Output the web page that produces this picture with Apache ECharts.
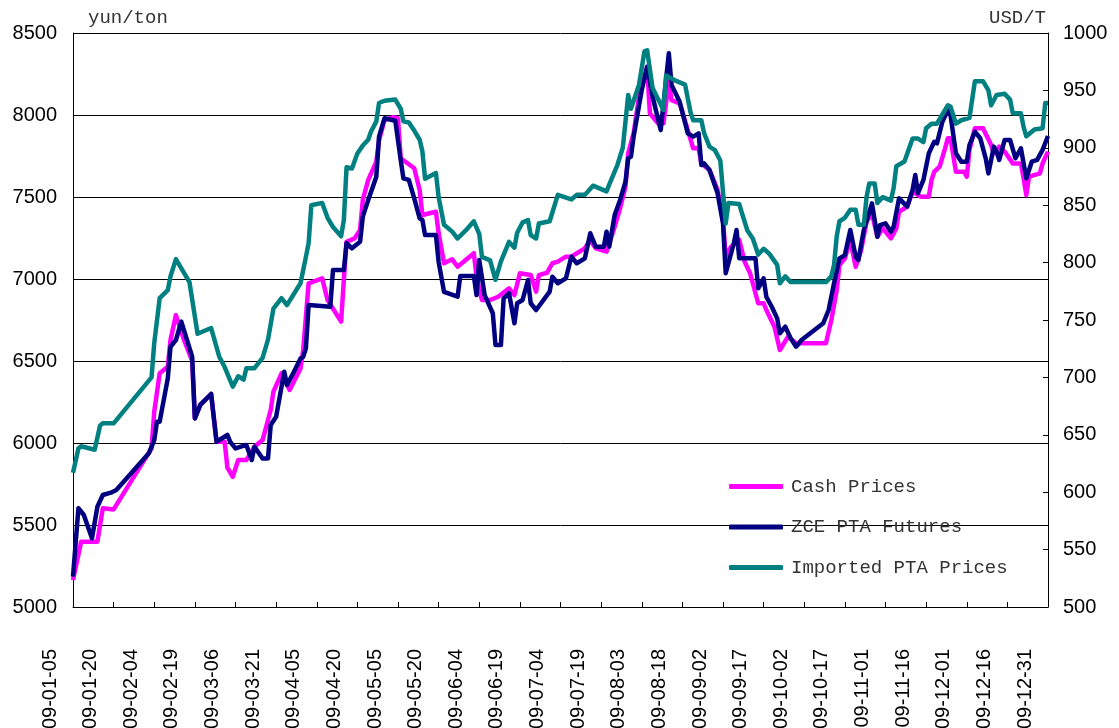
<!DOCTYPE html>
<html>
<head>
<meta charset="utf-8">
<script src="https://cdn.jsdelivr.net/npm/echarts@6/dist/echarts.min.js"></script>
<style>
  html, body { margin: 0; padding: 0; background: #fff; }
  #chart { width: 1119px; height: 728px; }
</style>
</head>
<body>
<div id="chart"></div>
<script>
// dates are 2009 month-day, values in yun/ton (cash, futures) and USD/T (imported)
const cashPrices = [
  ['01-05', 5164], ['01-08', 5398], ['01-14', 5398], ['01-16', 5602], ['01-20', 5595],
  ['02-03', 5967], ['02-04', 6191], ['02-06', 6425], ['02-09', 6465], ['02-10', 6628],
  ['02-12', 6780], ['02-15', 6628], ['02-18', 6500], ['02-19', 6150], ['02-21', 6232],
  ['02-25', 6299], ['02-27', 6008], ['03-02', 6008], ['03-03', 5850], ['03-05', 5794],
  ['03-07', 5896], ['03-10', 5896], ['03-13', 5977], ['03-16', 6018], ['03-19', 6201],
  ['03-20', 6313], ['03-23', 6425], ['03-26', 6323], ['03-30', 6455], ['03-31', 6567],
  ['04-02', 6974], ['04-07', 7004], ['04-09', 6872], ['04-14', 6740], ['04-15', 6994],
  ['04-16', 7227], ['04-19', 7248], ['04-21', 7299], ['04-22', 7482], ['04-24', 7604],
  ['04-27', 7716], ['04-28', 7847], ['04-30', 7969], ['05-03', 7986], ['05-05', 7980],
  ['05-06', 7736], ['05-11', 7675], ['05-13', 7543], ['05-14', 7390], ['05-19', 7410],
  ['05-20', 7279], ['05-22', 7096], ['05-25', 7120], ['05-27', 7075], ['06-02', 7157],
  ['06-03', 7014], ['06-05', 6872], ['06-08', 6872], ['06-11', 6892], ['06-15', 6943],
  ['06-17', 6902], ['06-19', 7035], ['06-23', 7024], ['06-25', 6923], ['06-26', 7024],
  ['06-29', 7038], ['07-01', 7096], ['07-03', 7106], ['07-06', 7136], ['07-08', 7136],
  ['07-11', 7167], ['07-13', 7187], ['07-15', 7238], ['07-17', 7187], ['07-21', 7167],
  ['07-24', 7319], ['07-26', 7431], ['07-28', 7563], ['07-29', 7767], ['07-31', 7888],
  ['08-02', 8112], ['08-05', 8294], ['08-06', 8010], ['08-09', 7949], ['08-11', 7949],
  ['08-13', 8203], ['08-14', 8091], ['08-17', 8071], ['08-20', 7908], ['08-22', 7797],
  ['08-24', 7797], ['08-25', 7705], ['08-28', 7665], ['08-31', 7543], ['09-02', 7360],
  ['09-03', 7136], ['09-05', 7197], ['09-08', 7238], ['09-10', 7105], ['09-12', 7035],
  ['09-13', 6974], ['09-15', 6852], ['09-17', 6852], ['09-18', 6811], ['09-21', 6709],
  ['09-23', 6567], ['09-26', 6648], ['09-29', 6608], ['10-10', 6608], ['10-12', 6750],
  ['10-14', 6933], ['10-15', 7085], ['10-17', 7126], ['10-19', 7238], ['10-21', 7075],
  ['10-23', 7177], ['10-25', 7349], ['10-27', 7400], ['10-29', 7258], ['10-31', 7309],
  ['11-03', 7248], ['11-05', 7309], ['11-06', 7410], ['11-09', 7441], ['11-11', 7532],
  ['11-14', 7502], ['11-17', 7502], ['11-18', 7604], ['11-19', 7654], ['11-21', 7685],
  ['11-23', 7797], ['11-24', 7858], ['11-25', 7858], ['11-27', 7654], ['11-30', 7654],
  ['12-01', 7624], ['12-02', 7787], ['12-04', 7919], ['12-07', 7919], ['12-10', 7817],
  ['12-11', 7766], ['12-13', 7807], ['12-15', 7777], ['12-18', 7705], ['12-21', 7705],
  ['12-22', 7614], ['12-23', 7512], ['12-24', 7624], ['12-28', 7644], ['12-29', 7705],
  ['12-31', 7777]
];

const zceFutures = [
  ['01-05', 5185], ['01-07', 5602], ['01-09', 5561], ['01-12', 5419], ['01-14', 5611],
  ['01-16', 5683], ['01-19', 5697], ['01-21', 5713], ['02-02', 5937], ['02-04', 6018],
  ['02-05', 6130], ['02-06', 6130], ['02-09', 6394], ['02-10', 6587], ['02-12', 6628],
  ['02-14', 6740], ['02-18', 6526], ['02-19', 6150], ['02-21', 6232], ['02-25', 6299],
  ['02-27', 6008], ['03-03', 6049], ['03-04', 6008], ['03-06', 5967], ['03-10', 5988],
  ['03-12', 5896], ['03-13', 5977], ['03-16', 5906], ['03-18', 5906], ['03-19', 6110],
  ['03-21', 6160], ['03-24', 6435], ['03-25', 6354], ['03-27', 6415], ['03-30', 6516],
  ['03-31', 6526], ['04-01', 6577], ['04-02', 6841], ['04-10', 6831], ['04-11', 7055],
  ['04-15', 7055], ['04-16', 7218], ['04-18', 7187], ['04-21', 7227], ['04-22', 7380],
  ['04-24', 7482], ['04-27', 7624], ['04-28', 7868], ['04-30', 7980], ['05-04', 7965],
  ['05-06', 7726], ['05-07', 7614], ['05-09', 7604], ['05-11', 7492], ['05-13', 7370],
  ['05-14', 7360], ['05-15', 7268], ['05-19', 7268], ['05-20', 7105], ['05-22', 6922],
  ['05-27', 6892], ['05-28', 7018], ['06-02', 7018], ['06-03', 6902], ['06-04', 7116],
  ['06-06', 6902], ['06-09', 6791], ['06-10', 6597], ['06-12', 6597], ['06-13', 6882],
  ['06-15', 6913], ['06-17', 6730], ['06-18', 6852], ['06-20', 6872], ['06-22', 6994],
  ['06-23', 6852], ['06-25', 6811], ['06-30', 6923], ['07-01', 7014], ['07-03', 6974],
  ['07-06', 7004], ['07-08', 7136], ['07-10', 7096], ['07-13', 7126], ['07-15', 7279],
  ['07-17', 7197], ['07-20', 7197], ['07-21', 7288], ['07-22', 7197], ['07-24', 7390],
  ['07-26', 7482], ['07-28', 7593], ['07-29', 7736], ['07-30', 7746], ['07-31', 7868],
  ['08-03', 8152], ['08-05', 8294], ['08-07', 8112], ['08-10', 7908], ['08-13', 8376],
  ['08-14', 8183], ['08-17', 8081], ['08-20', 7888], ['08-22', 7868], ['08-24', 7888],
  ['08-25', 7695], ['08-26', 7705], ['08-28', 7665], ['08-31', 7523], ['09-02', 7340],
  ['09-03', 7035], ['09-06', 7218], ['09-07', 7299], ['09-08', 7126], ['09-14', 7126],
  ['09-15', 6943], ['09-17', 7004], ['09-18', 6892], ['09-20', 6831], ['09-22', 6760],
  ['09-23', 6669], ['09-25', 6709], ['09-27', 6638], ['09-29', 6587], ['10-01', 6628],
  ['10-09', 6730], ['10-11', 6811], ['10-13', 6974], ['10-15', 7126], ['10-17', 7146],
  ['10-19', 7299], ['10-21', 7136], ['10-22', 7116], ['10-24', 7299], ['10-27', 7461],
  ['10-29', 7258], ['10-30', 7329], ['11-01', 7339], ['11-03', 7288], ['11-04', 7319],
  ['11-06', 7492], ['11-09', 7441], ['11-11', 7543], ['11-12', 7634], ['11-13', 7523],
  ['11-15', 7604], ['11-17', 7767], ['11-19', 7837], ['11-20', 7827], ['11-22', 7959],
  ['11-24', 8030], ['11-25', 8000], ['11-27', 7767], ['11-29', 7715], ['12-01', 7715],
  ['12-02', 7817], ['12-04', 7898], ['12-06', 7858], ['12-08', 7736], ['12-09', 7644],
  ['12-11', 7807], ['12-12', 7777], ['12-13', 7726], ['12-15', 7848], ['12-17', 7848],
  ['12-19', 7736], ['12-21', 7797], ['12-23', 7614], ['12-25', 7715], ['12-27', 7726],
  ['12-29', 7787], ['12-31', 7872]
];

const importedPrices = [
  ['01-05', 617], ['01-07', 638], ['01-08', 640], ['01-13', 637], ['01-15', 658],
  ['01-16', 660], ['01-20', 660], ['02-03', 700], ['02-04', 730], ['02-06', 769],
  ['02-09', 776], ['02-10', 788], ['02-12', 803], ['02-17', 783], ['02-20', 738],
  ['02-25', 743], ['02-28', 718], ['03-02', 709], ['03-05', 692], ['03-07', 701],
  ['03-09', 698], ['03-10', 708], ['03-13', 708], ['03-16', 717], ['03-18', 733],
  ['03-20', 760], ['03-23', 769], ['03-25', 763], ['03-30', 782], ['04-01', 805],
  ['04-02', 817], ['04-03', 850], ['04-07', 852], ['04-09', 839], ['04-11', 831],
  ['04-14', 823], ['04-15', 837], ['04-16', 883], ['04-18', 882], ['04-20', 895],
  ['04-22', 902], ['04-24', 907], ['04-25', 914], ['04-27', 923], ['04-28', 939],
  ['04-30', 941], ['05-04', 942], ['05-06', 934], ['05-07', 923], ['05-09', 922],
  ['05-11', 915], ['05-13', 907], ['05-14', 897], ['05-15', 873], ['05-19', 878],
  ['05-20', 857], ['05-22', 833], ['05-25', 827], ['05-27', 821], ['05-30', 828],
  ['06-02', 836], ['06-04', 825], ['06-05', 805], ['06-08', 802], ['06-10', 785],
  ['06-12', 801], ['06-15', 818], ['06-17', 813], ['06-18', 826], ['06-20', 835],
  ['06-22', 837], ['06-23', 824], ['06-25', 821], ['06-26', 834], ['06-30', 836],
  ['07-03', 859], ['07-08', 855], ['07-10', 859], ['07-13', 859], ['07-16', 867],
  ['07-21', 862], ['07-22', 868], ['07-25', 885], ['07-27', 900], ['07-29', 946],
  ['07-30', 934], ['08-02', 955], ['08-04', 984], ['08-05', 985], ['08-07', 952],
  ['08-11', 933], ['08-12', 963], ['08-15', 959], ['08-19', 955], ['08-21', 931],
  ['08-22', 924], ['08-25', 924], ['08-26', 913], ['08-28', 901], ['08-30', 898],
  ['09-01', 889], ['09-03', 834], ['09-04', 852], ['09-08', 851], ['09-09', 843],
  ['09-11', 828], ['09-13', 821], ['09-15', 807], ['09-17', 812], ['09-19', 808],
  ['09-22', 798], ['09-23', 782], ['09-25', 788], ['09-27', 783], ['10-10', 783],
  ['10-12', 788], ['10-13', 798], ['10-14', 823], ['10-15', 836], ['10-17', 839],
  ['10-19', 846], ['10-21', 846], ['10-22', 833], ['10-24', 833], ['10-25', 857],
  ['10-26', 869], ['10-28', 869], ['10-29', 852], ['10-31', 857], ['11-03', 854],
  ['11-04', 865], ['11-05', 884], ['11-08', 888], ['11-11', 908], ['11-13', 908],
  ['11-15', 905], ['11-16', 917], ['11-18', 921], ['11-20', 921], ['11-22', 929],
  ['11-24', 937], ['11-25', 936], ['11-27', 921], ['11-29', 924], ['12-02', 926],
  ['12-04', 958], ['12-07', 958], ['12-09', 950], ['12-10', 937], ['12-12', 946],
  ['12-15', 947], ['12-17', 942], ['12-18', 930], ['12-21', 930], ['12-22', 918],
  ['12-23', 910], ['12-26', 916], ['12-29', 917], ['12-30', 939], ['12-31', 939]
];

const seriesNames = ['Cash Prices', 'ZCE PTA Futures', 'Imported PTA Prices'];
const seriesColors = ['#ff00ff', '#000080', '#008080'];

// x axis runs in days counted from 2009-01-05, ticks every 15 days
const DAY = 86400000;
const start = Date.UTC(2009, 0, 5);
const toDay = (md) => {
  const [m, d] = md.split('-').map(Number);
  return (Date.UTC(2009, m - 1, d) - start) / DAY;
};
const dayLabel = (v) => {
  const dt = new Date(start + v * DAY);
  const mm = String(dt.getUTCMonth() + 1).padStart(2, '0');
  const dd = String(dt.getUTCDate()).padStart(2, '0');
  return dt.getUTCFullYear() + '-' + mm + '-' + dd;
};
const toPoints = (arr) => arr.map(([md, v]) => [toDay(md), v]);
const plain = (v) => String(v);

const chart = echarts.init(document.getElementById('chart'));
const lineSeries = (i, data, yIndex) => ({
  name: seriesNames[i],
  type: 'line',
  yAxisIndex: yIndex,
  data: toPoints(data),
  symbol: 'none',
  color: seriesColors[i],
  lineStyle: { width: 4.5, color: seriesColors[i], join: 'round' },
  emphasis: { disabled: true }
});

// the date labels sit a little left of their ticks, so they live on a second,
// invisible grid shifted 23px left of the plot
const labelShift = 23;

chart.setOption({
  animation: false,
  backgroundColor: '#fff',
  grid: [
    { left: 73, right: 71, top: 33, bottom: 121, outerBoundsMode: 'none' },
    { left: 73 - labelShift, right: 71 + labelShift, top: 33, bottom: 121, outerBoundsMode: 'none' }
  ],
  legend: {
    orient: 'vertical',
    left: 724,
    top: 472,
    icon: 'roundRect',
    itemWidth: 54,
    itemHeight: 5,
    itemGap: 21.5,
    textStyle: { fontFamily: 'Liberation Mono', fontSize: 19, color: '#333', padding: [0, 0, 0, 3] },
    data: seriesNames
  },
  xAxis: [
    {
      type: 'value',
      min: 0,
      max: 360,
      interval: 15,
      axisLine: { lineStyle: { color: '#000', width: 1 } },
      axisTick: { inside: true, length: 5, lineStyle: { color: '#000' } },
      splitLine: { show: false },
      axisLabel: { show: false }
    },
    {
      type: 'value',
      gridIndex: 1,
      min: 0,
      max: 360,
      interval: 15,
      axisLine: { show: false },
      axisTick: { show: false },
      splitLine: { show: false },
      axisLabel: {
        rotate: 90,
        margin: 42,
        color: '#000',
        fontFamily: 'Liberation Sans',
        fontSize: 20,
        showMinLabel: true,
        showMaxLabel: true,
        formatter: dayLabel
      }
    }
  ],
  yAxis: [
    {
      type: 'value',
      min: 5000,
      max: 8500,
      interval: 500,
      name: 'yun/ton',
      nameLocation: 'end',
      nameGap: 6,
      nameTextStyle: { fontFamily: 'Liberation Mono', fontSize: 19, color: '#333', align: 'left', padding: [0, 0, 0, 15] },
      axisLine: { show: true, lineStyle: { color: '#000' } },
      axisTick: { show: false },
      axisLabel: { margin: 16, color: '#000', fontFamily: 'Liberation Sans', fontSize: 20, formatter: plain },
      splitLine: { show: true, lineStyle: { color: '#000', width: 1 } }
    },
    {
      type: 'value',
      min: 500,
      max: 1000,
      interval: 50,
      position: 'right',
      name: 'USD/T',
      nameLocation: 'end',
      nameGap: 6,
      nameTextStyle: { fontFamily: 'Liberation Mono', fontSize: 19, color: '#333', align: 'right', padding: [0, 2, 0, 0] },
      axisLine: { show: true, lineStyle: { color: '#000' } },
      axisTick: { show: true, inside: true, length: 5, lineStyle: { color: '#000' } },
      axisLabel: { margin: 15, color: '#000', fontFamily: 'Liberation Sans', fontSize: 20, formatter: plain },
      splitLine: { show: false }
    },
    {
      type: 'value',
      gridIndex: 1,
      min: 0,
      max: 1,
      show: false
    }
  ],
  series: [
    lineSeries(0, cashPrices, 0),
    lineSeries(1, zceFutures, 0),
    lineSeries(2, importedPrices, 1)
  ]
});
</script>
</body>
</html>
